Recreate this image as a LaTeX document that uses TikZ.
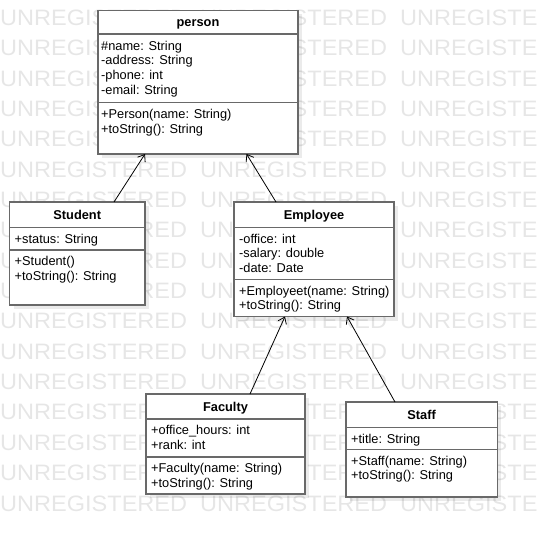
\documentclass[tikz,border=0pt]{standalone}
\usepackage{fontspec}
\usepackage{graphicx}
\setmainfont{Liberation Sans}
\usetikzlibrary{arrows.meta,shadows}
\definecolor{wmgray}{RGB}{230,230,230}
\definecolor{boxgray}{RGB}{105,105,105}

\begin{document}
\begin{tikzpicture}[x=1pt,y=-1pt,
  wmark/.style={anchor=base west,inner sep=0pt,text=wmgray,font=\fontsize{22.3}{26}\selectfont},
  classbox/.style={draw=boxgray,line width=1.6pt,fill=white,inner sep=0pt,outer sep=0pt,anchor=north west,
    drop shadow={shadow xshift=4pt,shadow yshift=-4pt,fill=black,opacity=0.08}},
  classname/.style={anchor=base,inner sep=0pt,font=\bfseries\fontsize{12.8}{15}\selectfont},
  members/.style={anchor=north west,inner sep=0pt,align=left,font=\fontsize{12.8}{14.7}\selectfont},
  sepline/.style={draw=boxgray,line width=1.6pt},
  inherit/.style={-{Straight Barb[length=6pt,width=9pt]},line width=0.8pt}]

\useasboundingbox (0,0) rectangle (537,537);

% watermark
\begin{scope}
  \clip (0,0) rectangle (537,537);
  \foreach \r in {0,...,16}
    \foreach \c in {0,200,400}
      \node[wmark] (wm-\r-\c) at (\c,25.3+30.36*\r) {\scalebox{1.055}[1]{UNREGISTERED}};
\end{scope}

% person
\node[classbox,minimum width=200pt,minimum height=143.5pt] (person) at (98,10.5) {};
\node[classname] (person-name) at ([yshift=-16.5pt]person.north) {person};
\draw[sepline] ([yshift=-23.8pt]person.north west) coordinate (person-s1) -- ([yshift=-23.8pt]person.north east);
\draw[sepline] ([yshift=-92.2pt]person.north west) coordinate (person-s2) -- ([yshift=-92.2pt]person.north east);
\node[members] (person-attr) at ([shift={(3pt,-6.3pt)}]person-s1) {\#name: String\\-address: String\\-phone: int\\-email: String};
\node[members] (person-ops) at ([shift={(3pt,-6.3pt)}]person-s2) {+Person(name: String)\\+toString(): String};

% student
\node[classbox,minimum width=135.5pt,minimum height=103pt] (student) at (9.5,202) {};
\node[classname] (student-name) at ([yshift=-17.3pt]student.north) {Student};
\draw[sepline] ([yshift=-25.3pt]student.north west) coordinate (student-s1) -- ([yshift=-25.3pt]student.north east);
\draw[sepline] ([yshift=-48pt]student.north west) coordinate (student-s2) -- ([yshift=-48pt]student.north east);
\node[members] (student-attr) at ([shift={(5pt,-6.3pt)}]student-s1) {+status: String};
\node[members] (student-ops) at ([shift={(5pt,-6.3pt)}]student-s2) {+Student()\\+toString(): String};

% employee
\node[classbox,minimum width=160pt,minimum height=114.5pt] (employee) at (234,202) {};
\node[classname] (employee-name) at ([yshift=-17.3pt]employee.north) {Employee};
\draw[sepline] ([yshift=-25.3pt]employee.north west) coordinate (employee-s1) -- ([yshift=-25.3pt]employee.north east);
\draw[sepline] ([yshift=-77.3pt]employee.north west) coordinate (employee-s2) -- ([yshift=-77.3pt]employee.north east);
\node[members] (employee-attr) at ([shift={(5pt,-6.3pt)}]employee-s1) {-office: int\\-salary: double\\-date: Date};
\node[members] (employee-ops) at ([shift={(5pt,-6.3pt)}]employee-s2) {+Employeet(name: String)\\+toString(): String};

% faculty
\node[classbox,minimum width=159pt,minimum height=100pt] (faculty) at (146,394) {};
\node[classname] (faculty-name) at ([yshift=-17.3pt]faculty.north) {Faculty};
\draw[sepline] ([yshift=-25pt]faculty.north west) coordinate (faculty-s1) -- ([yshift=-25pt]faculty.north east);
\draw[sepline] ([yshift=-62.7pt]faculty.north west) coordinate (faculty-s2) -- ([yshift=-62.7pt]faculty.north east);
\node[members] (faculty-attr) at ([shift={(5pt,-6.3pt)}]faculty-s1) {+office\_hours: int\\+rank: int};
\node[members] (faculty-ops) at ([shift={(5pt,-6.3pt)}]faculty-s2) {+Faculty(name: String)\\+toString(): String};

% staff
\node[classbox,minimum width=151.3pt,minimum height=94.7pt] (staff) at (346,402) {};
\node[classname] (staff-name) at ([yshift=-17.3pt]staff.north) {Staff};
\draw[sepline] ([yshift=-25.3pt]staff.north west) coordinate (staff-s1) -- ([yshift=-25.3pt]staff.north east);
\draw[sepline] ([yshift=-47.3pt]staff.north west) coordinate (staff-s2) -- ([yshift=-47.3pt]staff.north east);
\node[members] (staff-attr) at ([shift={(5pt,-6.3pt)}]staff-s1) {+title: String};
\node[members] (staff-ops) at ([shift={(5pt,-6.3pt)}]staff-s2) {+Staff(name: String)\\+toString(): String};

% generalisation
\draw[inherit] ([xshift=36.75pt]student.north) -- ([xshift=-53pt]person.south);
\draw[inherit] ([xshift=-38pt]employee.north) -- ([xshift=48.5pt]person.south);
\draw[inherit] ([xshift=24.5pt]faculty.north) -- ([xshift=-29pt]employee.south);
\draw[inherit] ([xshift=-26.65pt]staff.north) -- ([xshift=33pt]employee.south);

\end{tikzpicture}
\end{document}
